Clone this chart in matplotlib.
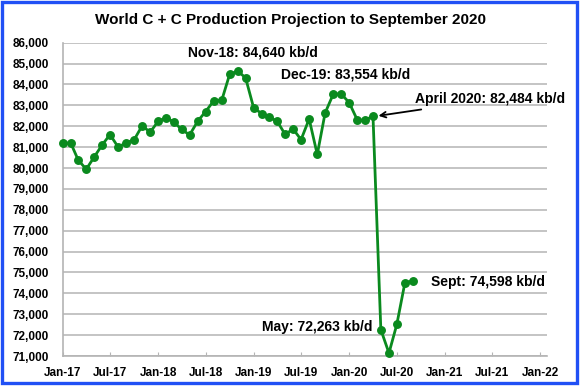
import matplotlib
matplotlib.use('Agg')
import matplotlib.pyplot as plt
import matplotlib.dates as mdates
import matplotlib.ticker as ticker
import pandas as pd
from matplotlib.patches import Rectangle

# monthly world C+C, kb/d, Jan-17 .. Sep-20
production = [81190, 81190, 80390, 79940, 80520, 81110, 81600, 81000, 81210, 81350, 82030, 81710,
              82240, 82410, 82200, 81850, 81580, 82240, 82700, 83210, 83245, 84480, 84640, 84320,
              82875, 82606, 82442, 82236, 81611, 81865, 81356, 82346, 80649, 82635, 83534, 83554,
              83130, 82300, 82284, 82484, 72263, 71140, 72510, 74510, 74598]
months = pd.date_range('2017-01-01', periods=len(production), freq='MS')

title = 'World C + C Production Projection to September 2020'
green = '#0a8a1e'
font = 'Liberation Sans'
plt.rcParams['font.family'] = [font, 'DejaVu Sans']

fig = plt.figure(figsize=(5.81, 3.87), dpi=100)
ax = fig.add_axes([0.1079, 0.0801, 0.8331, 0.8096])

ax.plot(months, production, color=green, lw=2.0, marker='o', ms=5.4, mec=green, mfc=green,
        zorder=3, clip_on=False)

ax.set_xlim(pd.Timestamp('2017-01-01'), pd.Timestamp('2022-01-25'))
ax.set_ylim(71000, 86000)
ax.set_yticks(range(71000, 86001, 1000))
ax.yaxis.set_major_formatter(ticker.FuncFormatter(lambda v, p: f'{int(v):,}'))
ax.xaxis.set_major_locator(mdates.MonthLocator(bymonth=[1, 7]))
ax.xaxis.set_major_formatter(mdates.DateFormatter('%b-%y'))

ax.grid(axis='y', color='#c4c4c4', lw=1.4)
ax.set_axisbelow(True)
for s in ['top', 'right']:
    ax.spines[s].set_visible(False)
for s in ['left', 'bottom']:
    ax.spines[s].set_color('#b4b4b4')
    ax.spines[s].set_linewidth(1.2)
ax.tick_params(axis='y', length=0, pad=10, labelsize=8.5)
ax.tick_params(axis='x', direction='in', length=3, color='#b4b4b4', pad=8, labelsize=8.5)
for lab in ax.get_xticklabels() + ax.get_yticklabels():
    lab.set_fontweight('bold')

fig.text(0.5, 0.948, title, ha='center', va='center', fontsize=11, fontweight='bold')

kw = dict(fontsize=10, fontweight='bold', va='center')
ax.text(pd.Timestamp('2018-12-28'), 85521, 'Nov-18: 84,640 kb/d', ha='center', **kw)
ax.text(pd.Timestamp('2019-12-19'), 84487, 'Dec-19: 83,554 kb/d', ha='center', **kw)
ax.annotate('April 2020: 82,484 kb/d', xy=(pd.Timestamp('2020-04-22'), 82500),
            xytext=(pd.Timestamp('2020-09-09'), 83290), ha='left',
            arrowprops=dict(arrowstyle='->', color='black', lw=1.3, shrinkA=2, shrinkB=0), **kw)
ax.text(pd.Timestamp('2020-03-30'), 72376, 'May: 72,263 kb/d', ha='right', **kw)
ax.text(pd.Timestamp('2020-11-07'), 74559, 'Sept: 74,598 kb/d', ha='left', **kw)

fig.patches.append(Rectangle((2 / 581, 4 / 387), 575 / 581, 381 / 387, transform=fig.transFigure,
                             fill=False, edgecolor='#2050f5', lw=2.4))

fig.savefig('out.png', dpi=100)
